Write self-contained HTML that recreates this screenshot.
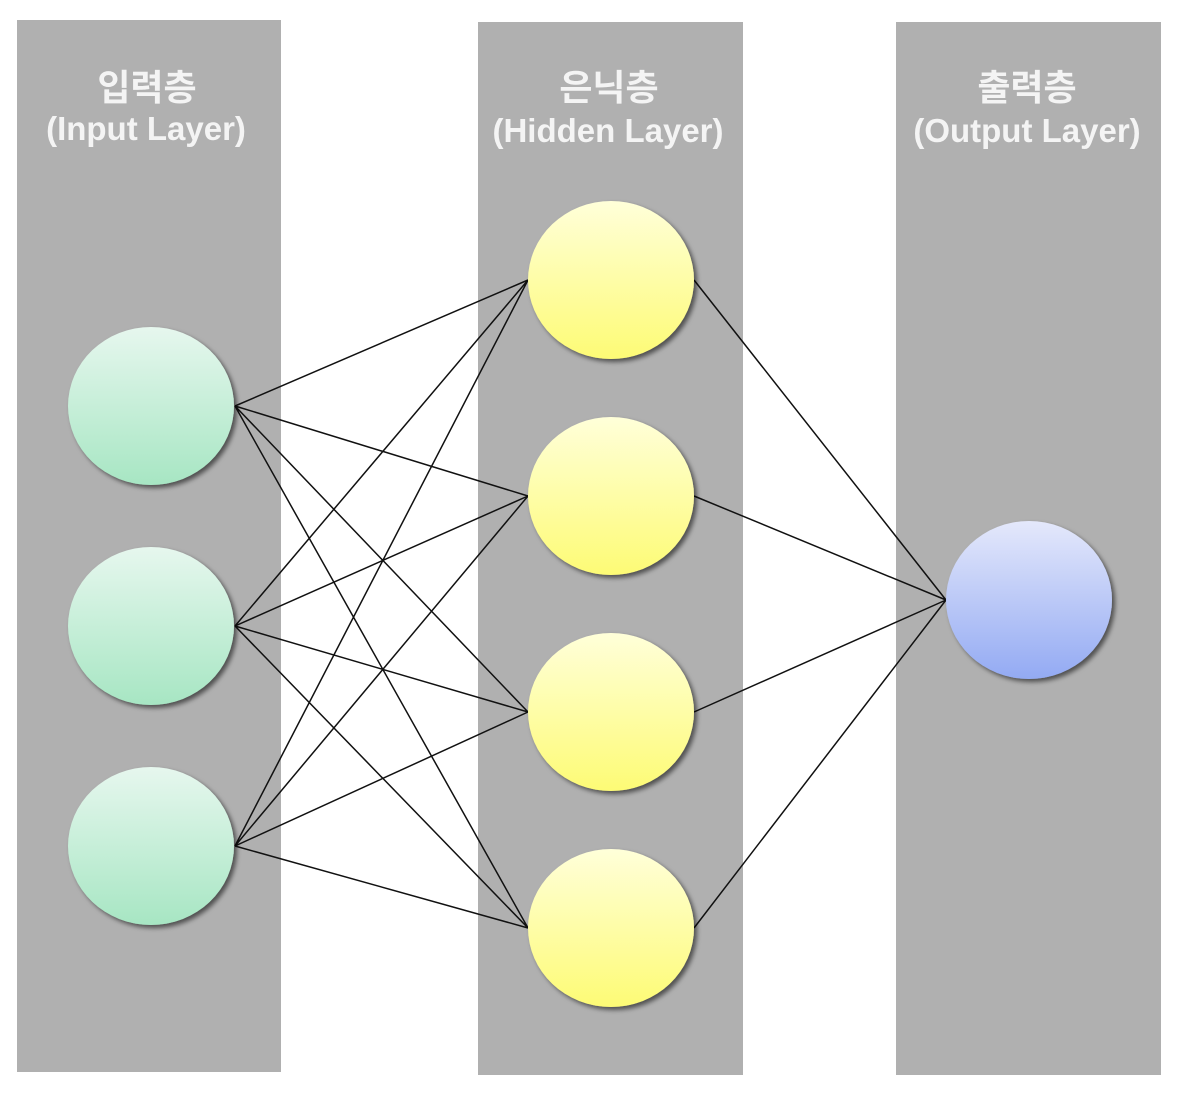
<!DOCTYPE html>
<html><head><meta charset="utf-8"><style>
html,body{margin:0;padding:0;background:#fff;}
svg{display:block}
text{font-family:"Liberation Sans","Noto Sans CJK KR",sans-serif;font-weight:bold;fill:#f4f4f4;font-size:33px;text-anchor:middle}
text.k{font-size:36px}
</style></head><body>
<svg width="1191" height="1106" viewBox="0 0 1191 1106" xmlns="http://www.w3.org/2000/svg">
<defs>
<linearGradient id="g" x1="0" y1="0" x2="0" y2="1"><stop offset="0" stop-color="#e6f7ee"/><stop offset="1" stop-color="#a7e6c3"/></linearGradient>
<linearGradient id="y" x1="0" y1="0" x2="0" y2="1"><stop offset="0" stop-color="#ffffd9"/><stop offset="1" stop-color="#fdfb75"/></linearGradient>
<linearGradient id="b" x1="0" y1="0" x2="0" y2="1"><stop offset="0" stop-color="#e4e8fb"/><stop offset="1" stop-color="#93aaf3"/></linearGradient>
<filter id="s" x="-20%" y="-20%" width="150%" height="150%"><feDropShadow dx="3" dy="3" stdDeviation="2.5" flood-color="#000" flood-opacity="0.55"/></filter>
</defs>
<rect x="17" y="20" width="264" height="1052" fill="#b0b0b0"/>
<rect x="478" y="22" width="265" height="1053" fill="#b0b0b0"/>
<rect x="896" y="22" width="265" height="1053" fill="#b0b0b0"/>
<text class="k" x="147" y="100">입력층</text>
<text x="146" y="140">(Input Layer)</text>
<text class="k" x="609" y="100">은닉층</text>
<text x="608" y="142">(Hidden Layer)</text>
<text class="k" x="1027" y="100">출력층</text>
<text x="1027" y="142">(Output Layer)</text>
<g stroke="#111" stroke-width="1.5" fill="none">
<path d="M235 406L528 280M235 406L528 496M235 406L528 712M235 406L528 928
M235 626L528 280M235 626L528 496M235 626L528 712M235 626L528 928
M235 846L528 280M235 846L528 496M235 846L528 712M235 846L528 928
M694 280L946 600M694 496L946 600M694 712L946 600M694 928L946 600"/>
</g>
<g filter="url(#s)">
<ellipse cx="151" cy="406" rx="83" ry="79" fill="url(#g)"/>
<ellipse cx="151" cy="626" rx="83" ry="79" fill="url(#g)"/>
<ellipse cx="151" cy="846" rx="83" ry="79" fill="url(#g)"/>
<ellipse cx="611" cy="280" rx="83" ry="79" fill="url(#y)"/>
<ellipse cx="611" cy="496" rx="83" ry="79" fill="url(#y)"/>
<ellipse cx="611" cy="712" rx="83" ry="79" fill="url(#y)"/>
<ellipse cx="611" cy="928" rx="83" ry="79" fill="url(#y)"/>
<ellipse cx="1029" cy="600" rx="83" ry="79" fill="url(#b)"/>
</g>
</svg>
</body></html>
